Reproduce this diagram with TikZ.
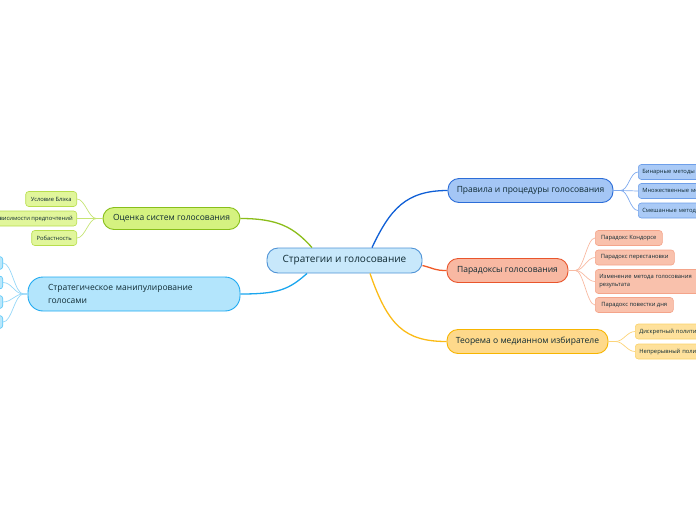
\documentclass[tikz,border=0pt]{standalone}
\usepackage{fontspec}
\setmainfont{Open Sans}
\definecolor{txt}{HTML}{0F2A33}
\definecolor{cfill}{HTML}{C8E8FB}
\definecolor{cdraw}{HTML}{4F93D6}
\definecolor{bAfill}{HTML}{A4C6F5}
\definecolor{bAdraw}{HTML}{2C6DD8}
\definecolor{bAline}{HTML}{0F5FD6}
\definecolor{lAfill}{HTML}{AACAF6}
\definecolor{lAdraw}{HTML}{6E9FE9}
\definecolor{lAline}{HTML}{7FAAEE}
\definecolor{bBfill}{HTML}{F8B8A2}
\definecolor{bBdraw}{HTML}{E9552C}
\definecolor{bBline}{HTML}{F05A28}
\definecolor{lBfill}{HTML}{F9C1AC}
\definecolor{lBdraw}{HTML}{F4A48A}
\definecolor{lBline}{HTML}{F8BAA2}
\definecolor{bCfill}{HTML}{FED98B}
\definecolor{bCdraw}{HTML}{F7B500}
\definecolor{bCline}{HTML}{FBBB16}
\definecolor{lCfill}{HTML}{FEE19C}
\definecolor{lCdraw}{HTML}{FBD36A}
\definecolor{lCline}{HTML}{FCD479}
\definecolor{bDfill}{HTML}{D5F280}
\definecolor{bDdraw}{HTML}{88BF1A}
\definecolor{bDline}{HTML}{8BBD1A}
\definecolor{lDfill}{HTML}{E1F69B}
\definecolor{lDdraw}{HTML}{B8DE4D}
\definecolor{lDline}{HTML}{C6E474}
\definecolor{bEfill}{HTML}{B3E5FC}
\definecolor{bEdraw}{HTML}{1FAAF1}
\definecolor{bEline}{HTML}{1AA6EE}
\definecolor{lEfill}{HTML}{B9E7FB}
\definecolor{lEdraw}{HTML}{52C4F7}
\definecolor{lEline}{HTML}{95D7F8}
\begin{document}
\begin{tikzpicture}[x=1pt,y=-1pt,
  mainbox/.style={draw, rounded corners=11pt, line width=0.9pt, inner sep=0pt,
    minimum height=24pt, font=\fontsize{8.5}{11}\selectfont, text=txt},
  leafbox/.style={draw, rounded corners=3pt, line width=0.6pt, inner xsep=4pt, inner ysep=0pt,
    minimum height=15pt, font=\fontsize{5.8}{8}\selectfont, text=txt},
  cutleaf/.style={leafbox, anchor=west, text width=150pt, align=left},
  conn/.style={line width=1.3pt},
  lconn/.style={line width=0.7pt}]
\path[use as bounding box, clip] (0,0) rectangle (696,520);

% central node
\node[mainbox, fill=cfill, draw=cdraw, minimum width=155pt, minimum height=25pt,
  font=\fontsize{10}{12}\selectfont, text=txt] (c) at (344.5,260.5) {Стратегии и голосование};

% branch nodes
\node[mainbox, fill=bAfill, draw=bAdraw, minimum width=165pt] (bA) at (530.5,190.5) {Правила и процедуры голосования};
\node[mainbox, fill=bBfill, draw=bBdraw, minimum width=121pt] (bB) at (507.5,270.5) {Парадоксы голосования};
\node[mainbox, fill=bCfill, draw=bCdraw, minimum width=161pt] (bC) at (527.5,341.5) {Теорема о медианном избирателе};
\node[mainbox, fill=bDfill, draw=bDdraw, minimum width=137pt, minimum height=22pt] (bD) at (171.5,218.5) {Оценка систем голосования};
\node[mainbox, fill=bEfill, draw=bEdraw, rounded corners=15pt, minimum height=34pt, text width=172pt,
  inner xsep=20pt, align=left, font=\fontsize{8.5}{13}\selectfont] (bE) at (134,294) {Стратегическое манипулирование\\голосами};

% main connectors
\draw[conn, bAline] ([xshift=27.5pt]c.north) .. controls +(18,-38) and +(-42,0) .. (bA.west);
\draw[conn, bBline] ([yshift=-5pt]c.east) .. controls +(12,3) and +(-12,0) .. (bB.west);
\draw[conn, bCline] ([xshift=25.5pt]c.south) .. controls +(18,52) and +(-42,0) .. (bC.west);
\draw[conn, bDline] ([xshift=-32.5pt]c.north) .. controls +(-18,-20) and +(38,0) .. (bD.east);
\draw[conn, bEline] ([xshift=-37.5pt]c.south) .. controls +(-18,16) and +(38,0) .. (bE.east);

% leaves of A
\node[cutleaf, fill=lAfill, draw=lAdraw] (a1) at (638,172) {Бинарные методы};
\node[cutleaf, fill=lAfill, draw=lAdraw] (a2) at (638,191) {Множественные методы};
\node[cutleaf, fill=lAfill, draw=lAdraw] (a3) at (638,210.5) {Смешанные методы};
\foreach \n in {a1,a2,a3}
  \draw[lconn, lAline] (bA.east) -- ++(7,0) .. controls +(8,0) and +(-8,0) .. (\n.west);

% leaves of B
\node[leafbox, fill=lBfill, draw=lBdraw, anchor=west, minimum width=67pt] (p1) at (595,238) {Парадокс Кондорсе};
\node[leafbox, fill=lBfill, draw=lBdraw, anchor=west, minimum width=79pt] (p2) at (595,257.5) {Парадокс перестановки};
\node[leafbox, fill=lBfill, draw=lBdraw, anchor=west, minimum height=24pt,
  align=left, text width=120pt] (p3) at (595,281.5) {Изменение метода голосования\\результата};
\node[leafbox, fill=lBfill, draw=lBdraw, anchor=west, minimum width=78pt] (p4) at (595,305) {Парадокс повестки дня};
\foreach \n in {p1,p2,p3,p4}
  \draw[lconn, lBline] (bB.east) -- ++(7,0) .. controls +(8,0) and +(-8,0) .. (\n.west);

% leaves of C
\node[cutleaf, fill=lCfill, draw=lCdraw] (m1) at (635,331.5) {Дискретный политический спектр};
\node[cutleaf, fill=lCfill, draw=lCdraw] (m2) at (635,351.5) {Непрерывный политический спектр};
\foreach \n in {m1,m2}
  \draw[lconn, lCline] (bC.east) -- ++(7,0) .. controls +(8,0) and +(-8,0) .. (\n.west);

% leaves of D
\node[leafbox, fill=lDfill, draw=lDdraw, anchor=east, minimum width=51pt] (o1) at (77,199) {Условие Блэка};
\node[leafbox, fill=lDfill, draw=lDdraw, anchor=east] (o2) at (77,218.5) {Условие независимости предпочтений};
\node[leafbox, fill=lDfill, draw=lDdraw, anchor=east, minimum width=45pt] (o3) at (77,238) {Робастность};
\foreach \n in {o1,o2,o3}
  \draw[lconn, lDline] (bD.west) -- ++(-6,0) .. controls +(-8,0) and +(8,0) .. (\n.east);

% leaves of E
\node[leafbox, fill=lEfill, draw=lEdraw, anchor=east, minimum width=40pt, minimum height=13pt] (s1) at (3,263) {};
\node[leafbox, fill=lEfill, draw=lEdraw, anchor=east, minimum width=40pt, minimum height=13pt] (s2) at (3,282.5) {};
\node[leafbox, fill=lEfill, draw=lEdraw, anchor=east, minimum width=40pt, minimum height=13pt] (s3) at (3,302) {};
\node[leafbox, fill=lEfill, draw=lEdraw, anchor=east, minimum width=40pt, minimum height=13pt] (s4) at (3,322) {};
\foreach \n in {s1,s2,s3,s4}
  \draw[lconn, lEline] (bE.west) -- ++(-4,0) .. controls +(-9,0) and +(9,0) .. (\n.east);
\end{tikzpicture}
\end{document}
